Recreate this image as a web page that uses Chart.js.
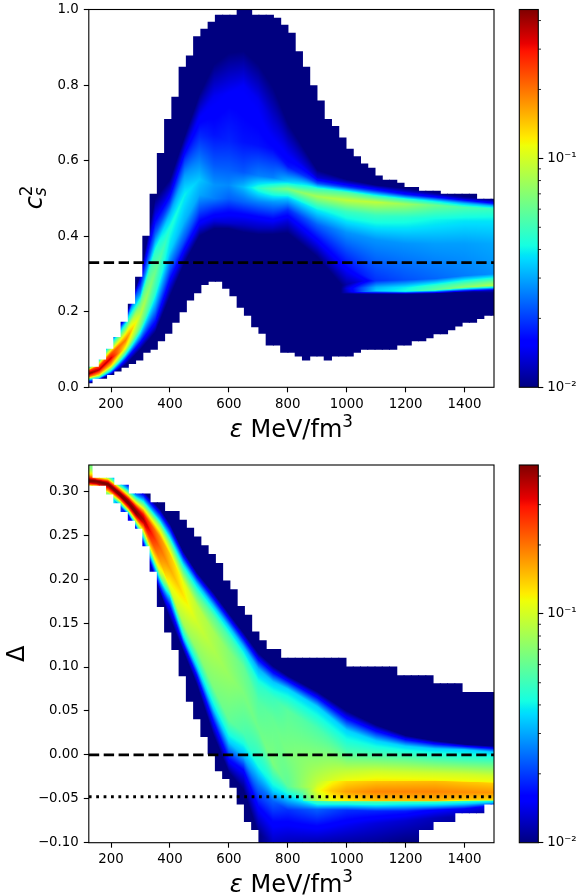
<!DOCTYPE html>
<html><head><meta charset="utf-8">
<style>
html,body{margin:0;padding:0;background:#fff;width:584px;height:896px;overflow:hidden}
canvas{position:absolute}
#a{left:0;top:0}#b{left:0;top:455px}#ca{left:500px;top:0}#cb{left:500px;top:455px}
</style>
<script src="https://cdn.jsdelivr.net/npm/chart.js@4"></script>
</head><body>
<canvas id="a" width="510" height="450"></canvas>
<canvas id="b" width="510" height="441"></canvas>
<canvas id="ca" width="84" height="400"></canvas>
<canvas id="cb" width="84" height="400"></canvas>
<script>
const binFirstCentre = 123.2, binWidth = 24.63;
const xTicks = [200,400,600,800,1000,1200,1400];
const yTicksTop = [0,0.2,0.4,0.6,0.8,1.0];
const yTicksBottom = [-0.10,-0.05,0,0.05,0.10,0.15,0.20,0.25,0.30];
const colorMajorTicks = [0.01,0.1];
const colorMinorTicks = [0.02,0.03,0.04,0.05,0.06,0.07,0.08,0.09,0.2,0.3,0.4];
const colorMin = 0.01, colorMax = 0.447;
const conformalLine = 0.33, zeroLine = 0, dottedLine = -0.0477;

// occupied range of each column of the histogram
const topLo = [.012,.024,.024,.034,.043,.053,.063,.072,.093,.101,.123,.143,.172,.2,.231,.25,.272,.281,.281,.262,.242,.212,.191,.16,.143,.112,.112,.093,.093,.083,.072,.083,.083,.072,.083,.083,.083,.093,.101,.101,.101,.101,.101,.112,.112,.123,.123,.131,.142,.142,.152,.162,.172,.172,.182,.191,.191];
const topHi = [.053,.053,.072,.101,.132,.172,.22,.291,.4,.511,.619,.709,.768,.847,.877,.928,.948,.966,.985,.985,.985,1,1,.985,.985,.985,.977,.958,.937,.888,.847,.798,.758,.709,.69,.66,.63,.61,.591,.58,.559,.548,.548,.54,.529,.529,.519,.519,.519,.511,.511,.511,.511,.511,.498,.498,.498];
const botLo = [.307,.307,.307,.297,.287,.277,.267,.258,.238,.209,.169,.14,.12,.09,.061,.041,.021,.001,-.018,-.027,-.037,-.056,-.076,-.085,-.1,-.1,-.1,-.1,-.1,-.1,-.1,-.1,-.1,-.1,-.1,-.1,-.1,-.1,-.1,-.1,-.1,-.1,-.1,-.1,-.1,-.1,-.085,-.085,-.076,-.076,-.076,-.066,-.066,-.066,-.066,-.056,-.056];
const botHi = [.33,.315,.315,.315,.307,.307,.297,.297,.297,.287,.287,.277,.277,.267,.258,.248,.238,.228,.218,.198,.188,.169,.159,.14,.13,.12,.12,.11,.11,.11,.11,.11,.11,.11,.11,.11,.1,.1,.1,.1,.1,.1,.1,.09,.09,.09,.09,.09,.081,.081,.081,.081,.071,.071,.071,.071,.071];

// density profiles read at stations along x: energy, then [y, colour position on the log colour scale] pairs
const topProfiles = [
[124,[.01,0],[.018,.25],[.028,.8],[.036,1],[.044,.85],[.05,.5],[.055,.3],[.06,.1],[.065,0]],
[160,[.02,0],[.024,.3],[.034,.7],[.046,.95],[.056,.85],[.065,.6],[.072,.4],[.08,.15],[.09,0]],
[200,[.033,0],[.042,.3],[.058,.7],[.077,.93],[.09,.82],[.103,.55],[.115,.37],[.128,.15],[.14,0]],
[250,[.06,0],[.073,.12],[.086,.35],[.103,.62],[.125,.78],[.14,.67],[.155,.5],[.17,.35],[.19,0]],
[300,[.1,0],[.118,.12],[.135,.27],[.16,.48],[.192,.58],[.222,.48],[.25,.27],[.28,.13],[.3,0]],
[350,[.145,0],[.17,.12],[.205,.25],[.25,.4],[.305,.48],[.36,.4],[.405,.22],[.45,.1],[.5,0]],
[400,[.24,0],[.27,.08],[.31,.2],[.36,.33],[.42,.39],[.46,.3],[.49,.18],[.52,.08],[.55,0]],
[450,[.33,0],[.36,.1],[.39,.2],[.44,.3],[.51,.36],[.56,.28],[.6,.18],[.635,.08],[.665,0]],
[500,[.4,0],[.43,.1],[.47,.2],[.51,.29],[.55,.32],[.6,.25],[.66,.17],[.72,.1],[.775,0]],
[550,[.42,0],[.44,.08],[.47,.16],[.5,.25],[.535,.27],[.59,.21],[.67,.14],[.77,.1],[.855,0]],
[600,[.42,0],[.435,.07],[.47,.14],[.5,.22],[.535,.26],[.575,.22],[.65,.16],[.78,.11],[.885,0]],
[650,[.41,0],[.43,.06],[.46,.13],[.49,.22],[.53,.31],[.57,.21],[.65,.14],[.8,.105],[.89,0]],
[700,[.405,0],[.42,.05],[.45,.12],[.49,.25],[.527,.4],[.56,.25],[.64,.14],[.76,.1],[.855,0]],
[750,[.405,0],[.42,.05],[.45,.14],[.49,.27],[.525,.46],[.555,.25],[.63,.13],[.71,.07],[.795,0]],
[800,[.408,0],[.44,.08],[.47,.17],[.5,.32],[.525,.5],[.545,.32],[.585,.14],[.63,.09],[.7,0]],
[900,[.345,0],[.39,.12],[.43,.22],[.47,.36],[.505,.55],[.525,.42],[.54,.2],[.555,.07],[.575,0]],
[1000,[.255,0],[.32,.13],[.41,.27],[.465,.42],[.495,.58],[.515,.45],[.53,.18],[.542,.06],[.55,0]],
[1100,[.25,0],[.28,.17],[.39,.27],[.455,.42],[.49,.58],[.505,.42],[.52,.17],[.53,.06],[.535,0]],
[1200,[.25,0],[.28,.2],[.38,.27],[.45,.4],[.485,.54],[.498,.4],[.51,.15],[.52,.05],[.527,0]],
[1300,[.25,0],[.28,.22],[.38,.28],[.445,.37],[.482,.48],[.493,.35],[.503,.14],[.51,.05],[.515,0]],
[1400,[.25,0],[.28,.24],[.38,.28],[.44,.35],[.476,.44],[.487,.3],[.495,.13],[.5,.05],[.505,0]],
[1500,[.25,0],[.28,.26],[.38,.29],[.44,.35],[.472,.42],[.48,.3],[.487,.13],[.493,.05],[.497,0]]
];
const topLowerBand = [
[980,[.247,0],[.25,0],[.26,0],[.27,0]],
[1000,[.247,0],[.252,.06],[.262,.08],[.28,0]],
[1050,[.247,0],[.253,.2],[.263,.2],[.295,0]],
[1100,[.247,0],[.255,.33],[.265,.3],[.305,0]],
[1200,[.247,0],[.254,.38],[.264,.36],[.31,0]],
[1300,[.248,0],[.258,.46],[.268,.42],[.31,0]],
[1400,[.252,0],[.265,.52],[.275,.45],[.32,0]],
[1500,[.255,0],[.27,.56],[.28,.48],[.325,0]]
];
const botProfiles = [
[124,[.306,.6],[.308,.8],[.31,.95],[.311,1],[.313,1],[.316,.85],[.32,.65],[.325,.55],[.33,.5]],
[150,[.306,.7],[.307,.8],[.309,.95],[.311,1],[.312,1],[.313,.95],[.314,.85],[.316,.7],[.32,.5]],
[190,[.298,.5],[.3,.7],[.304,.9],[.307,1],[.309,1],[.311,.9],[.313,.75],[.315,.55],[.32,.3]],
[230,[.283,.2],[.287,.45],[.291,.8],[.295,1],[.298,1],[.3,.9],[.303,.72],[.306,.45],[.312,.2]],
[260,[.272,.1],[.276,.45],[.281,.85],[.285,1],[.288,1],[.291,.92],[.296,.6],[.302,.3],[.31,0]],
[285,[.258,.1],[.264,.5],[.27,.85],[.274,1],[.278,1],[.282,.9],[.289,.55],[.296,.25],[.305,0]],
[310,[.24,.1],[.25,.45],[.258,.75],[.264,.92],[.268,.97],[.274,.88],[.283,.55],[.292,.25],[.3,0]],
[366,[.185,0],[.199,.33],[.208,.6],[.222,.75],[.236,.8],[.248,.76],[.26,.55],[.268,.3],[.28,0]],
[400,[.155,0],[.168,.12],[.18,.33],[.19,.62],[.212,.73],[.228,.7],[.24,.52],[.25,.3],[.263,0]],
[445,[.118,0],[.126,.12],[.134,.33],[.15,.55],[.182,.67],[.197,.63],[.208,.48],[.218,.33],[.232,0]],
[491,[.08,0],[.09,.12],[.1,.33],[.12,.52],[.151,.6],[.17,.58],[.183,.46],[.195,.32],[.208,0]],
[547,[.023,0],[.04,.15],[.053,.33],[.078,.5],[.12,.56],[.14,.55],[.158,.46],[.17,.32],[.185,0]],
[600,[-.02,0],[-.003,.15],[.015,.33],[.04,.47],[.09,.53],[.117,.51],[.134,.44],[.146,.32],[.161,0]],
[650,[-.04,0],[-.018,.12],[-.002,.3],[.025,.44],[.07,.5],[.1,.47],[.113,.4],[.123,.31],[.139,0]],
[700,[-.09,0],[-.06,.12],[-.035,.24],[-.012,.38],[.03,.48],[.06,.45],[.08,.4],[.098,.3],[.116,0]],
[750,[-.1,.06],[-.075,.13],[-.053,.22],[-.04,.34],[-.01,.5],[.04,.47],[.065,.42],[.083,.32],[.101,0]],
[800,[-.1,.05],[-.08,.11],[-.063,.17],[-.049,.33],[-.036,.46],[0,.5],[.05,.46],[.075,.33],[.09,0]],
[900,[-.1,.04],[-.08,.13],[-.062,.22],[-.056,.38],[-.037,.6],[-.01,.53],[.03,.44],[.055,.33],[.072,0]],
[1000,[-.1,.03],[-.08,.1],[-.063,.17],[-.056,.38],[-.037,.68],[-.018,.58],[.003,.44],[.028,.33],[.05,0]],
[1100,[-.1,.02],[-.078,.08],[-.064,.16],[-.057,.37],[-.037,.7],[-.019,.6],[0,.44],[.016,.33],[.034,0]],
[1200,[-.1,0],[-.075,.07],[-.064,.15],[-.057,.35],[-.037,.7],[-.02,.6],[-.003,.45],[.01,.33],[.022,0]],
[1300,[-.1,0],[-.072,.05],[-.063,.12],[-.057,.34],[-.038,.7],[-.021,.6],[-.004,.43],[.007,.33],[.016,0]],
[1400,[-.09,0],[-.07,.03],[-.062,.1],[-.056,.33],[-.04,.7],[-.022,.6],[-.005,.42],[.006,.33],[.012,0]],
[1500,[-.08,0],[-.065,.02],[-.058,.1],[-.054,.33],[-.04,.7],[-.024,.6],[-.006,.42],[.003,.33],[.01,0]]
];
const botBrightBand = [
[850,[-.056,0],[-.052,.42],[-.04,.48],[-.03,.46],[-.02,0]],
[900,[-.056,0],[-.052,.56],[-.04,.63],[-.03,.58],[-.02,0]],
[950,[-.056,0],[-.052,.63],[-.041,.7],[-.03,.64],[-.018,0]],
[1000,[-.0555,0],[-.052,.66],[-.042,.74],[-.03,.68],[-.018,0]],
[1100,[-.0555,0],[-.052,.7],[-.042,.77],[-.03,.7],[-.018,0]],
[1300,[-.0555,0],[-.052,.71],[-.042,.77],[-.03,.71],[-.019,0]],
[1500,[-.055,0],[-.051,.68],[-.043,.75],[-.032,.69],[-.02,0]]
];

const FONT = '"DejaVu Sans"';
const jetR=[[0,0],[.35,0],[.66,1],[.89,1],[1,.5]], jetG=[[0,0],[.125,0],[.375,1],[.64,1],[.91,0],[1,0]], jetB=[[0,.5],[.11,1],[.34,1],[.65,0],[1,0]];
function pw(t,c){ if(t<=c[0][0])return c[0][1]; for(let i=1;i<c.length;i++){ if(t<=c[i][0]){const a=c[i-1],b=c[i];return a[1]+(b[1]-a[1])*(t-a[0])/(b[0]-a[0]);} } return c[c.length-1][1]; }
const jet=t=>[pw(t,jetR)*255,pw(t,jetG)*255,pw(t,jetB)*255];

function profileAt(stations,e){
  let i=0; while(i<stations.length-2 && e>stations[i+1][0]) i++;
  const A=stations[i],B=stations[i+1]; const t=Math.max(0,Math.min(1,(e-A[0])/(B[0]-A[0])));
  const out=[]; for(let k=1;k<A.length;k++) out.push([A[k][0]+(B[k][0]-A[k][0])*t, A[k][1]+(B[k][1]-A[k][1])*t]);
  return out;
}
function shade(stations,e){ const p=profileAt(stations,e); return y=>pw(y,p); }

function fieldPattern(chart,main,extra){
  if(!chart.chartArea) return 'rgba(0,0,0,0)';
  if(chart.$pattern) return chart.$pattern;
  const off=document.createElement('canvas'); off.width=chart.width; off.height=chart.height;
  const c=off.getContext('2d'), img=c.createImageData(off.width,off.height);
  const xs=chart.scales.x, ys=chart.scales.y, ca=chart.chartArea;
  for(let px=Math.floor(ca.left)-1;px<=Math.ceil(ca.right);px++){
    const e=xs.getValueForPixel(px+.5), f=shade(main,e);
    const g=extra && e>=extra[0][0] ? shade(extra,e):null;
    for(let py=Math.max(0,Math.floor(ca.top)-1);py<=Math.ceil(ca.bottom);py++){
      const y=ys.getValueForPixel(py+.5); let v=f(y); if(g) v=Math.max(v,g(y));
      const [r,gg,b]=jet(v), o=(py*off.width+px)*4;
      img.data[o]=r;img.data[o+1]=gg;img.data[o+2]=b;img.data[o+3]=255;
    }
  }
  c.putImageData(img,0,0);
  chart.$pattern=chart.ctx.createPattern(off,'no-repeat');
  return chart.$pattern;
}
const noPad=s=>{s.paddingTop=0;s.paddingBottom=0;s.paddingLeft=0;s.paddingRight=0;};

const frame={id:'frame',afterDatasetsDraw(ch){const c=ch.ctx,a=ch.chartArea;c.save();c.strokeStyle='#000';c.lineWidth=1.1;c.strokeRect(a.left,a.top,a.right-a.left,a.bottom-a.top);c.restore();}};
function runs(c,list){ let w=0; for(const r of list){c.font=r.font; if(!r.noAdvance) w+=c.measureText(r.t).width+(r.gap||0);} return w; }
function drawRuns(c,list,x,y){ for(const r of list){c.font=r.font;c.fillText(r.t,x,y+(r.dy||0)); if(!r.noAdvance) x+=c.measureText(r.t).width+(r.gap||0);} }
function titles(xY,yX,yList){return {id:'titles',afterDraw(ch){
  const c=ch.ctx,a=ch.chartArea; c.save(); c.fillStyle='#000'; c.textBaseline='alphabetic';c.textAlign='left';
  const xl=[{t:'ε',font:`italic 24px ${FONT}`},{t:' MeV/fm',font:`24px ${FONT}`},{t:'3',font:`16.8px ${FONT}`,dy:-10}];
  drawRuns(c,xl,(a.left+a.right)/2-runs(c,xl)/2,xY);
  c.translate(yX,(a.top+a.bottom)/2); c.rotate(-Math.PI/2);
  drawRuns(c,yList,-runs(c,yList)/2,0);
  c.restore();
}};}

function panel(id,lo,hi,yTicks,yMin,yMax,fmt,areaH,topPad,lines,main,extra,xY,yX,yList){
  const bars=lo.map((l,i)=>({x:binFirstCentre+i*binWidth,y:[l,hi[i]]}));
  const ds=lines.map(l=>({type:'line',order:0,data:[{x:124.5,y:l.y},{x:1500,y:l.y}],borderColor:'#000',borderWidth:2.8,borderDash:l.dash,pointRadius:0,borderCapStyle:'butt',fill:false}));
  ds.push({type:'bar',order:1,data:bars,barPercentage:1,categoryPercentage:1,borderWidth:0,inflateAmount:0.5,
    backgroundColor:ctx=>fieldPattern(ctx.chart,main,extra)});
  return new Chart(document.getElementById(id),{
    type:'bar',data:{datasets:ds},
    plugins:[frame,titles(xY,yX,yList)],
    options:{responsive:false,animation:false,devicePixelRatio:1,
      layout:{padding:{top:topPad,right:16,left:0,bottom:0}},
      plugins:{legend:{display:false},tooltip:{enabled:false}},
      scales:{
        x:{type:'linear',min:124.5,max:1500,offset:false,
          afterBuildTicks:s=>{s.ticks=xTicks.map(v=>({value:v}));},
          afterFit:s=>{s.height=areaH;noPad(s);},
          border:{display:false},
          grid:{drawOnChartArea:false,drawTicks:true,tickLength:5,color:'#000',tickWidth:1.1,offset:false},
          ticks:{font:{family:FONT,size:13.33},color:'#000',padding:4,maxRotation:0,autoSkip:false,callback:v=>String(v)}},
        y:{type:'linear',min:yMin,max:yMax,
          afterBuildTicks:s=>{s.ticks=yTicks.map(v=>({value:v}));},
          afterFit:s=>{s.width=88.8;noPad(s);},
          border:{display:false},
          grid:{drawOnChartArea:false,drawTicks:true,tickLength:5,color:'#000',tickWidth:1.1},
          ticks:{font:{family:FONT,size:13.33},color:'#000',padding:5,autoSkip:false,callback:fmt}}
      }}
  });
}
const dash=[10.4,4.5], dot=[2.8,4.6];
panel('a',topLo,topHi,yTicksTop,0,1,v=>v.toFixed(1),62.7,9.5,[{y:conformalLine,dash}],topProfiles,topLowerBand,437,42,
  [{t:'c',font:`italic 24px ${FONT}`,gap:0},{t:'2',font:`16.8px ${FONT}`,dy:-10,noAdvance:true},{t:'s',font:`italic 16.8px ${FONT}`,dy:4}]);
panel('b',botLo,botHi,yTicksBottom,-0.1,0.33,v=>(v<0?'\u2212':'')+Math.abs(v).toFixed(2),53.3,10,[{y:zeroLine,dash},{y:dottedLine,dash:dot}],botProfiles,botBrightBand,437,24,
  [{t:'Δ',font:`24px ${FONT}`}]);

function colorbar(id){
  const minor={id:'minor',afterDatasetsDraw(ch){const c=ch.ctx,a=ch.chartArea,s=ch.scales.y;c.save();c.strokeStyle='#000';c.lineWidth=.8;
    for(const v of colorMinorTicks){const p=s.getPixelForValue(v);c.beginPath();c.moveTo(a.right,p);c.lineTo(a.right+2.7,p);c.stroke();}
    c.lineWidth=1.1;c.strokeRect(a.left,a.top,a.right-a.left,a.bottom-a.top);c.restore();}};
  new Chart(document.getElementById(id),{
    type:'bar',
    data:{labels:[''],datasets:[{data:[[colorMin,colorMax]],barPercentage:1,categoryPercentage:1,borderWidth:0,inflateAmount:0,
      backgroundColor:ctx=>{const a=ctx.chart.chartArea; if(!a) return '#008';
        const g=ctx.chart.ctx.createLinearGradient(0,a.bottom,0,a.top);
        [0,.11,.125,.34,.35,.375,.64,.65,.66,.89,.91,1].forEach(t=>{const [r,gg,b]=jet(t);g.addColorStop(t,`rgb(${r},${gg},${b})`);});
        return g;}}]},
    plugins:[minor],
    options:{responsive:false,animation:false,devicePixelRatio:1,
      layout:{padding:{top:id==='ca'?9.5:10,left:19.3,right:0,bottom:id==='ca'?12.7:12.3}},
      plugins:{legend:{display:false},tooltip:{enabled:false}},
      scales:{
        x:{display:false},
        y:{type:'logarithmic',position:'right',min:colorMin,max:colorMax,
          afterBuildTicks:s=>{s.ticks=colorMajorTicks.map(v=>({value:v,major:true}));},
          afterFit:s=>{s.width=45.7;noPad(s);},
          border:{display:false},
          grid:{drawOnChartArea:false,drawTicks:true,tickLength:5,color:'#000',tickWidth:1.1},
          ticks:{font:{family:FONT,size:13.33},color:'#000',padding:4,autoSkip:false,callback:v=>v===0.1?'10\u207B\u00B9':'10\u207B\u00B2'}}
      }}
  });
}
colorbar('ca');colorbar('cb');
</script>
</body></html>
